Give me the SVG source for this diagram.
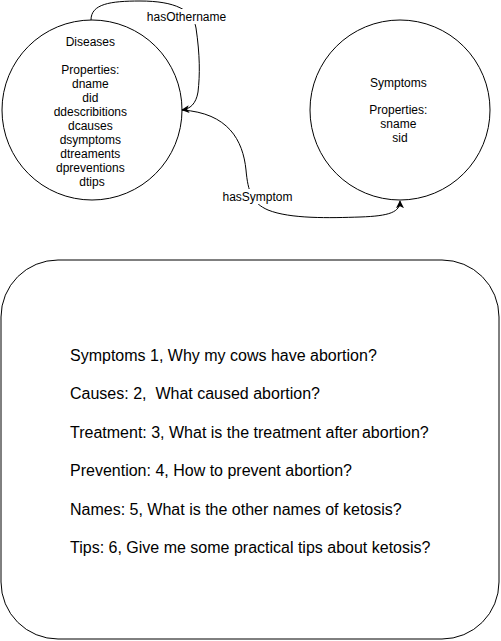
<svg xmlns="http://www.w3.org/2000/svg" width="501" height="641" viewBox="0 0 501 641">
  <style>
    .node { fill: #ffffff; stroke: #000000; stroke-width: 1; }
    .t12 { font-family: "Liberation Sans", Arial, sans-serif; font-size: 12px; fill: #000000; text-anchor: middle; }
    .t16 { font-family: "Liberation Sans", Arial, sans-serif; font-size: 16px; fill: #000000; white-space: pre; }
    .edge { fill: none; stroke: #000000; stroke-width: 1; }
    .lblbg { fill: #ffffff; stroke: none; }
  </style>
  <defs>
    <marker id="arrow" viewBox="0 0 10 10" refX="9" refY="5" markerWidth="8" markerHeight="8" markerUnits="userSpaceOnUse" orient="auto">
      <path d="M0,0 L10,5 L0,10 L2.5,5 Z" fill="#000000"/>
    </marker>
  </defs>
  <rect width="501" height="641" fill="#ffffff"/>

  <g id="diseases">
    <circle class="node" cx="92" cy="110" r="90"/>
    <text class="t12">
      <tspan x="92" y="46">Diseases</tspan>
      <tspan x="92" y="74">Properties:</tspan>
      <tspan x="92" y="88">dname</tspan>
      <tspan x="92" y="102">did</tspan>
      <tspan x="92" y="116">ddescribitions</tspan>
      <tspan x="92" y="130">dcauses</tspan>
      <tspan x="92" y="144">dsymptoms</tspan>
      <tspan x="92" y="158">dtreaments</tspan>
      <tspan x="92" y="172">dpreventions</tspan>
      <tspan x="92" y="186">dtips</tspan>
    </text>
  </g>

  <g id="symptoms">
    <circle class="node" cx="400" cy="110" r="90"/>
    <text class="t12">
      <tspan x="400" y="87">Symptoms</tspan>
      <tspan x="400" y="114">Properties:</tspan>
      <tspan x="400" y="128">sname</tspan>
      <tspan x="400" y="142">sid</tspan>
    </text>
  </g>

  <g id="connectors">
    <path class="edge" d="M 91 20 C 91 4, 110 1, 140 1 C 175 1, 193 10, 196 28 C 200 55, 200 75, 198 92 C 196 104, 190 109, 182 110" marker-end="url(#arrow)"/>
    <rect class="lblbg" x="146" y="9" width="81" height="15"/>
    <text class="t12" x="186.5" y="21">hasOthername</text>

    <path class="edge" d="M 182 110 C 228 113, 243 140, 246 170 C 248 192, 252 203, 268 210 C 290 219, 330 218, 360 217 C 390 216, 400 212, 400 201" marker-end="url(#arrow)"/>
    <rect class="lblbg" x="221" y="189" width="74" height="15"/>
    <text class="t12" x="257.5" y="201">hasSymptom</text>
  </g>

  <g id="questions">
    <rect class="node" x="1" y="260" width="498" height="379" rx="57" ry="57"/>
    <text class="t16" x="70" y="361">Symptoms 1, Why my cows have abortion?</text>
    <text class="t16" x="70" y="399.4">Causes: 2,  What caused abortion?</text>
    <text class="t16" x="70" y="437.8">Treatment: 3, What is the treatment after abortion?</text>
    <text class="t16" x="70" y="476.2">Prevention: 4, How to prevent abortion?</text>
    <text class="t16" x="70" y="514.6">Names: 5, What is the other names of ketosis?</text>
    <text class="t16" x="70" y="553">Tips: 6, Give me some practical tips about ketosis?</text>
  </g>
</svg>
